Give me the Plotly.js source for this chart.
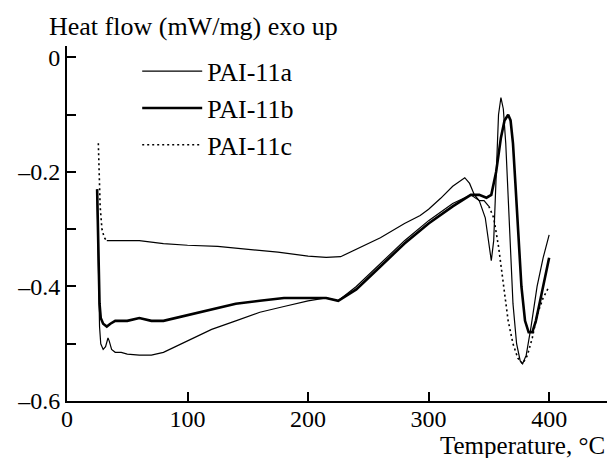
<!DOCTYPE html>
<html>
<head>
<meta charset="utf-8">
<script src="https://cdn.plot.ly/plotly-3.0.1.min.js"></script>
<style>html,body{margin:0;padding:0;background:#fff}#chart{width:607px;height:458px}</style>
</head>
<body>
<div id="chart"></div>
<script>
// ---- data (temperature in °C, heat flow in mW/mg) ----
const T_a = [25, 25.5, 26, 27, 28, 30, 32, 34, 35, 37, 40, 45, 50, 60, 70, 80, 90, 100, 120, 140, 160, 180, 200, 215, 225, 240, 260, 280, 300, 320, 335, 342, 347, 350, 352, 354, 356, 358, 360, 362, 364, 367, 370, 373, 376, 378, 381, 385, 390, 395, 400];
const HF_a = [-0.24, -0.30, -0.40, -0.47, -0.50, -0.51, -0.505, -0.49, -0.495, -0.51, -0.515, -0.515, -0.518, -0.52, -0.52, -0.515, -0.505, -0.495, -0.475, -0.46, -0.445, -0.435, -0.425, -0.42, -0.425, -0.40, -0.36, -0.32, -0.285, -0.255, -0.24, -0.25, -0.28, -0.33, -0.355, -0.32, -0.20, -0.10, -0.07, -0.09, -0.15, -0.30, -0.43, -0.50, -0.53, -0.535, -0.52, -0.47, -0.40, -0.35, -0.31];

const T_b = [25, 25.5, 26, 27, 28, 30, 33, 36, 40, 50, 60, 70, 80, 90, 100, 120, 140, 160, 180, 200, 215, 225, 240, 260, 280, 300, 320, 335, 342, 348, 352, 356, 360, 363, 366, 368, 370, 372, 374, 377, 380, 383, 386, 389, 392, 396, 400];
const HF_b = [-0.23, -0.28, -0.36, -0.43, -0.455, -0.465, -0.47, -0.465, -0.46, -0.46, -0.455, -0.46, -0.46, -0.455, -0.45, -0.44, -0.43, -0.425, -0.42, -0.42, -0.42, -0.425, -0.405, -0.365, -0.325, -0.29, -0.26, -0.24, -0.24, -0.245, -0.24, -0.20, -0.14, -0.11, -0.10, -0.11, -0.15, -0.22, -0.30, -0.40, -0.46, -0.48, -0.48, -0.46, -0.43, -0.39, -0.35];

const T_c = [26, 26.5, 27.5, 29, 31, 33, 40, 60, 80, 100, 125, 150, 175, 200, 215, 227, 240, 260, 280, 293, 300, 310, 320, 326, 330, 334, 338, 342, 346, 350, 354, 358, 362, 366, 370, 374, 378, 382, 386, 390, 395, 400];
const HF_c = [-0.15, -0.20, -0.26, -0.30, -0.315, -0.32, -0.32, -0.32, -0.325, -0.328, -0.33, -0.335, -0.34, -0.347, -0.349, -0.348, -0.335, -0.315, -0.29, -0.276, -0.265, -0.246, -0.225, -0.215, -0.21, -0.22, -0.24, -0.25, -0.25, -0.26, -0.28, -0.33, -0.40, -0.46, -0.50, -0.525, -0.535, -0.52, -0.49, -0.45, -0.42, -0.40];

const names = ['PAI-11a', 'PAI-11b', 'PAI-11c'];
const xTicks = [0, 100, 200, 300, 400];
const yTickVals = [0, -0.1, -0.2, -0.3, -0.4, -0.5, -0.6];
const yTickText = ['0', '', '–0.2', '', '–0.4', '', '–0.6'];

// index ranges where the PAI-11c line appears dotted / solid in the figure
const cSpikeEnd = 6;   // first points (initial spike)
const cDropStart = 29; // drop after the peak

const FONT = 'Liberation Serif, Times New Roman, serif';
const FS = 26;
const FS_TICK = 24;

const traces = [
  {x: T_a, y: HF_a, name: names[0], mode: 'lines', line: {color: '#000', width: 1.2}},
  {x: T_b, y: HF_b, name: names[1], mode: 'lines', line: {color: '#000', width: 2.6}},
  {x: T_c.slice(0, cSpikeEnd), y: HF_c.slice(0, cSpikeEnd), name: names[2], legendgroup: 'c', mode: 'lines', line: {color: '#000', width: 1.6, dash: '2px,3px'}},
  {x: T_c.slice(cSpikeEnd - 1, cDropStart + 1), y: HF_c.slice(cSpikeEnd - 1, cDropStart + 1), name: names[2], legendgroup: 'c', showlegend: false, mode: 'lines', line: {color: '#000', width: 1.2}},
  {x: T_c.slice(cDropStart), y: HF_c.slice(cDropStart), name: names[2], legendgroup: 'c', showlegend: false, mode: 'lines', line: {color: '#000', width: 1.6, dash: '2px,3px'}}
];

const layout = {
  width: 607, height: 458,
  margin: {l: 66.5, r: 0, t: 45.5, b: 57},
  paper_bgcolor: '#fff', plot_bgcolor: '#fff',
  font: {family: FONT, size: FS, color: '#000'},
  showlegend: true,
  legend: {x: 0.13, y: 0.995, xanchor: 'left', yanchor: 'top', bgcolor: 'rgba(0,0,0,0)',
           font: {family: FONT, size: FS, color: '#000'}, itemwidth: 60, tracegroupgap: 0, traceorder: 'grouped'},
  xaxis: {range: [0, 448], tickvals: xTicks, ticktext: xTicks.map(String), ticks: 'inside', ticklen: 9, tickwidth: 2,
          tickcolor: '#000', showline: true, linecolor: '#000', linewidth: 2, showgrid: false, zeroline: false,
          ticklabelstandoff: -5, tickfont: {family: FONT, size: FS_TICK, color: '#000'}},
  yaxis: {range: [-0.6, 0.02], tickvals: yTickVals, ticktext: yTickText, ticks: 'inside', ticklen: 9, tickwidth: 2,
          tickcolor: '#000', showline: true, linecolor: '#000', linewidth: 2, showgrid: false, zeroline: false,
          tickfont: {family: FONT, size: FS_TICK, color: '#000'}},
  annotations: [
    {text: 'Heat flow (mW/mg) exo up', xref: 'paper', yref: 'paper', x: -0.037, y: 1.0, xanchor: 'left', yanchor: 'bottom',
     yshift: 3, showarrow: false, font: {family: FONT, size: FS, color: '#000'}},
    {text: 'Temperature, °C', xref: 'paper', yref: 'paper', x: 1.0, y: 0, xanchor: 'right', yanchor: 'top',
     yshift: -29, showarrow: false, font: {family: FONT, size: 25, color: '#000'}}
  ]
};

Plotly.newPlot('chart', traces, layout, {displayModeBar: false, staticPlot: true});
</script>
</body>
</html>
